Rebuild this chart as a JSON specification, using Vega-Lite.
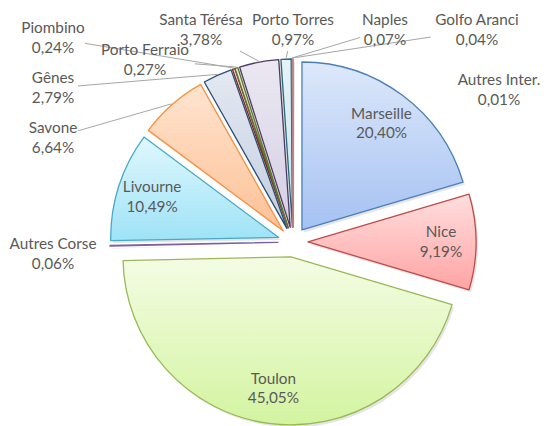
{
  "$schema": "https://vega.github.io/schema/vega-lite/v6.json",
  "width": 554,
  "height": 426,
  "padding": 0,
  "autosize": {"type": "none"},
  "background": "#ffffff",
  "config": {"view": {"stroke": null}},
  "data": {"values": [
    {"port": "Marseille", "pct": 20.40},
    {"port": "Nice", "pct": 9.19},
    {"port": "Toulon", "pct": 45.05},
    {"port": "Autres Corse", "pct": 0.06},
    {"port": "Livourne", "pct": 10.49},
    {"port": "Savone", "pct": 6.64},
    {"port": "Gênes", "pct": 2.79},
    {"port": "Piombino", "pct": 0.24},
    {"port": "Porto Ferraio", "pct": 0.27},
    {"port": "Santa Térésa", "pct": 3.78},
    {"port": "Porto Torres", "pct": 0.97},
    {"port": "Naples", "pct": 0.07},
    {"port": "Golfo Aranci", "pct": 0.04},
    {"port": "Autres Inter.", "pct": 0.01}
  ]},
  "transform": [
    {"window": [{"op": "sum", "field": "pct", "as": "t1"}], "frame": [null, 0]},
    {"calculate": "datum.t1 - datum.pct", "as": "t0"},
    {"calculate": "(datum.t0 + datum.pct / 2) / 100 * 2 * PI", "as": "mid"},
    {"calculate": "datum.pct < 8 ? 1 : 0", "as": "out"},
    {"window": [{"op": "sum", "field": "out", "as": "kk"}], "frame": [null, 0]},
    {"calculate": "datum.kk - 1", "as": "k"},
    {"calculate": "15 * sin(datum.mid)", "as": "cx"},
    {"calculate": "15 * cos(datum.mid)", "as": "cy"},
    {"calculate": "datum.cx + 2", "as": "shx"},
    {"calculate": "datum.cy - 2.5", "as": "shy"},
    {"calculate": "184 * sin(datum.mid)", "as": "sx"},
    {"calculate": "184 * cos(datum.mid)", "as": "sy"},
    {"calculate": "datum.k <= 3 ? -240 : (datum.k == 4 ? -148 : (datum.k <= 8 ? 92 * (datum.k - 6) : 206))", "as": "lx"},
    {"calculate": "datum.k == 0 ? -12 : (datum.k <= 3 ? 204 - 50 * (3 - datum.k) : (datum.k == 4 ? 182 : (datum.k <= 8 ? 212 : 152)))", "as": "ly"},
    {"calculate": "datum.out == 1 ? datum.lx : 148 * sin(datum.mid)", "as": "px"},
    {"calculate": "datum.out == 1 ? datum.ly : 148 * cos(datum.mid)", "as": "py"},
    {"calculate": "datum.port + '\\n' + replace(format(datum.pct, '.2f'), '.', ',') + '%'", "as": "label"},
    {"calculate": "datum.sx - datum.px", "as": "vx"},
    {"calculate": "datum.sy - datum.py", "as": "vy"},
    {"calculate": "sqrt(datum.vx * datum.vx + datum.vy * datum.vy)", "as": "vl"},
    {"calculate": "max(length(datum.port) * 3.6, 22) + 3", "as": "hw"},
    {"calculate": "min(datum.hw / max(abs(datum.vx) / datum.vl, 0.001), 21 / max(abs(datum.vy) / datum.vl, 0.001))", "as": "tb"},
    {"calculate": "datum.px + datum.vx / datum.vl * datum.tb", "as": "ex"},
    {"calculate": "datum.py + datum.vy / datum.vl * datum.tb", "as": "ey"}
  ],
  "layer": [
    {
      "mark": {"type": "arc", "radius": 168, "fill": "#000000", "opacity": 0.1, "strokeWidth": 0},
      "encoding": {
        "theta": {"field": "t0", "type": "quantitative", "stack": null, "scale": {"domain": [0, 100], "range": [0, 6.283185307]}},
        "theta2": {"field": "t1"},
        "x": {"field": "shx", "type": "quantitative", "axis": null, "scale": {"domain": [-293, 261], "nice": false, "zero": false}},
        "y": {"field": "shy", "type": "quantitative", "axis": null, "scale": {"domain": [-184, 242], "nice": false, "zero": false}}
      }
    },
    {
      "mark": {"type": "arc", "radius": 168, "strokeWidth": 1.3, "strokeJoin": "round"},
      "encoding": {
        "theta": {"field": "t0", "type": "quantitative", "stack": null, "scale": {"domain": [0, 100], "range": [0, 6.283185307]}},
        "theta2": {"field": "t1"},
        "x": {"field": "cx", "type": "quantitative", "axis": null, "scale": {"domain": [-293, 261], "nice": false, "zero": false}},
        "y": {"field": "cy", "type": "quantitative", "axis": null, "scale": {"domain": [-184, 242], "nice": false, "zero": false}},
        "stroke": {"field": "port", "type": "nominal", "legend": null, "scale": {
          "domain": ["Marseille", "Nice", "Toulon", "Autres Corse", "Livourne", "Savone", "Gênes", "Piombino", "Porto Ferraio", "Santa Térésa", "Porto Torres", "Naples", "Golfo Aranci", "Autres Inter."],
          "range": ["#4a7ebb", "#be4b48", "#98b954", "#7d60a0", "#46aac5", "#f69240", "#2c4d75", "#772c2a", "#5f7530", "#4d3b62", "#276a7c", "#b65708", "#729aca", "#cd7371"]}},
        "fill": {
          "condition": [
            {"test": "datum.port === 'Marseille'", "value": {"gradient": "linear", "x1": 0, "y1": 0, "x2": 0, "y2": 1, "stops": [{"offset": 0, "color": "#dde8fa"}, {"offset": 1, "color": "#a5c2f2"}]}},
            {"test": "datum.port === 'Nice'", "value": {"gradient": "linear", "x1": 0, "y1": 0, "x2": 0, "y2": 1, "stops": [{"offset": 0, "color": "#ffdede"}, {"offset": 1, "color": "#ffa4a4"}]}},
            {"test": "datum.port === 'Toulon'", "value": {"gradient": "linear", "x1": 0, "y1": 0, "x2": 0, "y2": 1, "stops": [{"offset": 0, "color": "#f4fce4"}, {"offset": 1, "color": "#d3f4a0"}]}},
            {"test": "datum.port === 'Autres Corse'", "value": {"gradient": "linear", "x1": 0, "y1": 0, "x2": 0, "y2": 1, "stops": [{"offset": 0, "color": "#e3dcf0"}, {"offset": 1, "color": "#b9a7d8"}]}},
            {"test": "datum.port === 'Livourne'", "value": {"gradient": "linear", "x1": 0, "y1": 0, "x2": 0, "y2": 1, "stops": [{"offset": 0, "color": "#e0f7fd"}, {"offset": 1, "color": "#9ee3f7"}]}},
            {"test": "datum.port === 'Savone'", "value": {"gradient": "linear", "x1": 0, "y1": 0, "x2": 0, "y2": 1, "stops": [{"offset": 0, "color": "#ffe4cf"}, {"offset": 1, "color": "#fdc196"}]}},
            {"test": "datum.port === 'Gênes'", "value": {"gradient": "linear", "x1": 0, "y1": 0, "x2": 0, "y2": 1, "stops": [{"offset": 0, "color": "#e4e9f2"}, {"offset": 1, "color": "#c4cee0"}]}},
            {"test": "datum.port === 'Piombino'", "value": {"gradient": "linear", "x1": 0, "y1": 0, "x2": 0, "y2": 1, "stops": [{"offset": 0, "color": "#efd6d6"}, {"offset": 1, "color": "#d9a9a8"}]}},
            {"test": "datum.port === 'Porto Ferraio'", "value": {"gradient": "linear", "x1": 0, "y1": 0, "x2": 0, "y2": 1, "stops": [{"offset": 0, "color": "#e7f0d2"}, {"offset": 1, "color": "#c6da9f"}]}},
            {"test": "datum.port === 'Santa Térésa'", "value": {"gradient": "linear", "x1": 0, "y1": 0, "x2": 0, "y2": 1, "stops": [{"offset": 0, "color": "#ebe8f2"}, {"offset": 1, "color": "#d5cfe3"}]}},
            {"test": "datum.port === 'Porto Torres'", "value": {"gradient": "linear", "x1": 0, "y1": 0, "x2": 0, "y2": 1, "stops": [{"offset": 0, "color": "#e6f3f7"}, {"offset": 1, "color": "#c4e2ec"}]}},
            {"test": "datum.port === 'Naples'", "value": {"gradient": "linear", "x1": 0, "y1": 0, "x2": 0, "y2": 1, "stops": [{"offset": 0, "color": "#fbe6d4"}, {"offset": 1, "color": "#efc6a2"}]}},
            {"test": "datum.port === 'Golfo Aranci'", "value": {"gradient": "linear", "x1": 0, "y1": 0, "x2": 0, "y2": 1, "stops": [{"offset": 0, "color": "#e3ebf7"}, {"offset": 1, "color": "#bccde9"}]}}
          ],
          "value": {"gradient": "linear", "x1": 0, "y1": 0, "x2": 0, "y2": 1, "stops": [{"offset": 0, "color": "#f6e3e3"}, {"offset": 1, "color": "#e8b8b7"}]}
        }
      }
    },
    {
      "transform": [{"filter": "datum.out == 1 && datum.port !== 'Autres Corse' && datum.port !== 'Autres Inter.' && datum.vl > datum.tb + 2"}],
      "mark": {"type": "rule", "color": "#a6a6a6", "strokeWidth": 1},
      "encoding": {
        "x": {"field": "ex", "type": "quantitative", "axis": null, "scale": {"domain": [-293, 261], "nice": false, "zero": false}},
        "y": {"field": "ey", "type": "quantitative", "axis": null, "scale": {"domain": [-184, 242], "nice": false, "zero": false}},
        "x2": {"field": "sx"},
        "y2": {"field": "sy"}
      }
    },
    {
      "mark": {"type": "text", "font": "Lato", "fontSize": 15.3, "color": "#595959", "lineBreak": "\n", "lineHeight": 19.5, "align": "center", "baseline": "middle", "dy": -9.75},
      "encoding": {
        "x": {"field": "px", "type": "quantitative", "axis": null, "scale": {"domain": [-293, 261], "nice": false, "zero": false}},
        "y": {"field": "py", "type": "quantitative", "axis": null, "scale": {"domain": [-184, 242], "nice": false, "zero": false}},
        "text": {"field": "label"}
      }
    }
  ]
}
